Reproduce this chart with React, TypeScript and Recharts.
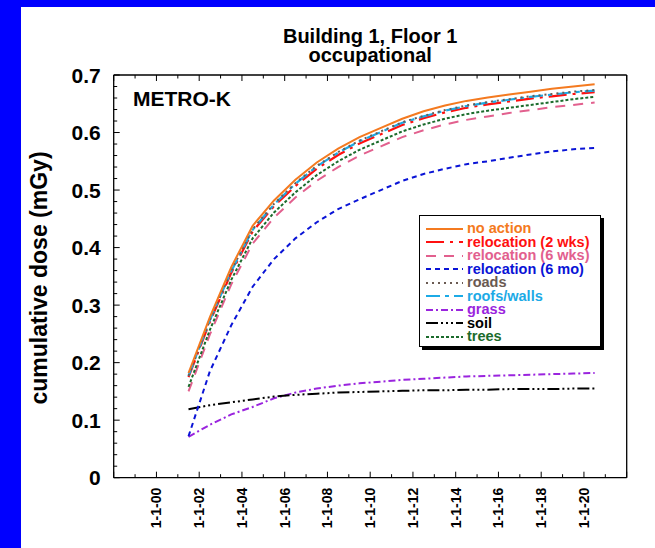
import React from 'react';
import { LineChart, Line, XAxis, YAxis, Legend } from 'recharts';

// Mid-year sample dates (decimal years)
const years = [
  2001.5, 2002.5, 2003.5, 2004.5, 2005.5, 2006.5, 2007.5, 2008.5, 2009.5, 2010.5,
  2011.5, 2012.5, 2013.5, 2014.5, 2015.5, 2016.5, 2017.5, 2018.5, 2019.5, 2020.5,
];

// Cumulative dose (mGy) per countermeasure
const noAction = [0.182, 0.279, 0.366, 0.438, 0.482, 0.518, 0.548, 0.572, 0.592, 0.608, 0.624, 0.637, 0.647, 0.655, 0.661, 0.666, 0.671, 0.676, 0.68, 0.684];
const relocation2wks = [0.175, 0.271, 0.356, 0.428, 0.472, 0.507, 0.537, 0.561, 0.581, 0.597, 0.613, 0.625, 0.635, 0.643, 0.649, 0.654, 0.659, 0.663, 0.667, 0.67];
const relocation6wks = [0.15, 0.249, 0.336, 0.407, 0.452, 0.487, 0.516, 0.54, 0.56, 0.576, 0.592, 0.604, 0.614, 0.622, 0.628, 0.634, 0.639, 0.644, 0.648, 0.652];
const relocation6mo = [0.072, 0.185, 0.265, 0.332, 0.38, 0.416, 0.444, 0.467, 0.484, 0.5, 0.516, 0.528, 0.537, 0.545, 0.55, 0.556, 0.562, 0.567, 0.571, 0.573];
const roads = [0.177, 0.274, 0.36, 0.432, 0.476, 0.512, 0.542, 0.566, 0.586, 0.602, 0.618, 0.629, 0.639, 0.647, 0.653, 0.658, 0.663, 0.667, 0.671, 0.674];
const roofsWalls = [0.177, 0.274, 0.359, 0.431, 0.475, 0.511, 0.541, 0.565, 0.585, 0.601, 0.617, 0.628, 0.638, 0.646, 0.652, 0.657, 0.662, 0.666, 0.67, 0.673];
const grass = [0.071, 0.092, 0.11, 0.123, 0.138, 0.148, 0.155, 0.16, 0.164, 0.167, 0.17, 0.172, 0.174, 0.176, 0.177, 0.178, 0.179, 0.18, 0.181, 0.182];
const soil = [0.119, 0.126, 0.131, 0.136, 0.141, 0.144, 0.146, 0.148, 0.149, 0.15, 0.151, 0.152, 0.152, 0.153, 0.153, 0.154, 0.154, 0.154, 0.155, 0.155];
const trees = [0.158, 0.257, 0.344, 0.416, 0.461, 0.496, 0.526, 0.55, 0.57, 0.586, 0.602, 0.614, 0.624, 0.632, 0.638, 0.643, 0.648, 0.653, 0.658, 0.662];

// Axis ticks
const yearTicks = [1998, 1999, 2000, 2001, 2002, 2003, 2004, 2005, 2006, 2007, 2008, 2009, 2010, 2011, 2012, 2013, 2014, 2015, 2016, 2017, 2018, 2019, 2020, 2021, 2022];
const labelledYears = [2000, 2002, 2004, 2006, 2008, 2010, 2012, 2014, 2016, 2018, 2020];
const yearLabels = ['1-1-00', '1-1-02', '1-1-04', '1-1-06', '1-1-08', '1-1-10', '1-1-12', '1-1-14', '1-1-16', '1-1-18', '1-1-20'];
const doseMajorTicks = [0, 0.1, 0.2, 0.3, 0.4, 0.5, 0.6, 0.7];
const doseLabels = ['0', '0.1', '0.2', '0.3', '0.4', '0.5', '0.6', '0.7'];
const doseTicks = Array.from({ length: 36 }, (_, k) => Math.round(k * 2) / 100);

type SeriesDef = { key: string; name: string; values: number[]; color: string; dash?: string; width: number };

const series: SeriesDef[] = [
  { key: 'noAction', name: 'no action', values: noAction, color: '#F47A20', width: 2 },
  { key: 'relocation2wks', name: 'relocation (2 wks)', values: relocation2wks, color: '#FF1010', dash: '18 6 3 6', width: 2.2 },
  { key: 'relocation6wks', name: 'relocation (6 wks)', values: relocation6wks, color: '#E2608E', dash: '10 8', width: 2 },
  { key: 'relocation6mo', name: 'relocation (6 mo)', values: relocation6mo, color: '#0A14D6', dash: '5 4', width: 2 },
  { key: 'roads', name: 'roads', values: roads, color: '#6A5A52', dash: '2 4', width: 2 },
  { key: 'roofsWalls', name: 'roofs/walls', values: roofsWalls, color: '#1CAAE6', dash: '14 5 4 5', width: 2.2 },
  { key: 'grass', name: 'grass', values: grass, color: '#9A24DE', dash: '7 3 2 3', width: 2 },
  { key: 'soil', name: 'soil', values: soil, color: '#000000', dash: '12 3 2 3 2 3 2 3', width: 2 },
  { key: 'trees', name: 'trees', values: trees, color: '#1B6B2C', dash: '3 2', width: 2 },
];

const drawOrder = ['grass', 'soil', 'relocation6mo', 'relocation6wks', 'trees', 'relocation2wks', 'roofsWalls', 'roads', 'noAction'];

const data = years.map((year, i) => {
  const row: Record<string, number> = { year };
  series.forEach((s) => {
    row[s.key] = s.values[i];
  });
  return row;
});

const FONT = '"Liberation Sans", Arial, Helvetica, sans-serif';

const BottomTick = (props: any) => {
  const { x, y, payload } = props;
  const v = payload.value as number;
  const major = v % 2 === 0;
  const idx = labelledYears.indexOf(v);
  return (
    <g>
      <line x1={x} y1={y} x2={x} y2={y - (major ? 6 : 3.5)} stroke="#000" strokeWidth={1} />
      {idx >= 0 && (
        <text
          x={x}
          y={y + 10}
          transform={`rotate(-90, ${x}, ${y + 10})`}
          textAnchor="end"
          dominantBaseline="central"
          fontFamily={FONT}
          fontWeight="bold"
          fontSize={14}
          fill="#000"
        >
          {yearLabels[idx]}
        </text>
      )}
    </g>
  );
};

const TopTick = (props: any) => {
  const { x, y, payload } = props;
  const major = (payload.value as number) % 2 === 0;
  return <line x1={x} y1={y} x2={x} y2={y + (major ? 6 : 3.5)} stroke="#000" strokeWidth={1} />;
};

const isMajorDose = (v: number) => doseMajorTicks.some((m) => Math.abs(m - v) < 1e-6);

const LeftTick = (props: any) => {
  const { x, y, payload } = props;
  const v = payload.value as number;
  const idx = doseMajorTicks.findIndex((m) => Math.abs(m - v) < 1e-6);
  return (
    <g>
      <line x1={x} y1={y} x2={x + (idx >= 0 ? 6 : 3.5)} y2={y} stroke="#000" strokeWidth={1} />
      {idx >= 0 && (
        <text
          x={x - 13}
          y={y}
          textAnchor="end"
          dominantBaseline="central"
          fontFamily={FONT}
          fontWeight="bold"
          fontSize={21}
          fill="#000"
        >
          {doseLabels[idx]}
        </text>
      )}
    </g>
  );
};

const RightTick = (props: any) => {
  const { x, y, payload } = props;
  const major = isMajorDose(payload.value as number);
  return <line x1={x} y1={y} x2={x - (major ? 6 : 3.5)} y2={y} stroke="#000" strokeWidth={1} />;
};

const legendOrder = ['noAction', 'relocation2wks', 'relocation6wks', 'relocation6mo', 'roads', 'roofsWalls', 'grass', 'soil', 'trees'];

const LegendBox = () => (
  <div
    style={{
      width: 182,
      height: 132,
      background: '#fff',
      border: '1px solid #000',
      boxShadow: '3px 3px 0 #000',
      boxSizing: 'border-box',
      padding: '6px 0 0 6px',
    }}
  >
    {legendOrder.map((key) => {
      const s = series.find((d) => d.key === key)!;
      return (
        <div key={key} style={{ display: 'flex', alignItems: 'center', height: 13.5 }}>
          <svg width={37} height={6} style={{ flex: 'none' }}>
            <line x1={0} y1={3} x2={37} y2={3} stroke={s.color} strokeWidth={2} strokeDasharray={s.dash} />
          </svg>
          <span
            style={{
              color: s.color,
              fontFamily: FONT,
              fontWeight: 'bold',
              fontSize: 14.5,
              lineHeight: '13.5px',
              marginLeft: 4,
              whiteSpace: 'nowrap',
            }}
          >
            {s.name}
          </span>
        </div>
      );
    })}
  </div>
);

const PLOT_LEFT = 113.7;
const PLOT_TOP = 75;
const PLOT_RIGHT = 626.7;
const PLOT_BOTTOM = 477.7;
const AXIS_BAND = 1;
const W = 655;
const H = 548;
const TITLE_X = 39;
const TITLE_Y = 278;

export default function App() {
  return (
    <div style={{ position: 'absolute', left: 0, top: 0, width: W, height: H, background: '#fff', overflow: 'hidden' }}>
      <div style={{ position: 'absolute', left: 0, top: 0, width: W, height: 7, background: '#0000FF' }} />
      <div style={{ position: 'absolute', left: 0, top: 0, width: 21, height: H, background: '#0000FF' }} />
      <div
        style={{
          position: 'absolute',
          left: PLOT_LEFT,
          width: PLOT_RIGHT - PLOT_LEFT,
          top: 27,
          textAlign: 'center',
          fontFamily: FONT,
          fontWeight: 'bold',
          fontSize: 20,
          lineHeight: '19px',
          color: '#000',
        }}
      >
        Building 1, Floor 1
        <br />
        occupational
      </div>
      <div
        style={{
          position: 'absolute',
          left: 133,
          top: 88,
          fontFamily: FONT,
          fontWeight: 'bold',
          fontSize: 21,
          lineHeight: '22px',
          color: '#000',
        }}
      >
        METRO-K
      </div>
      <LineChart
        width={W}
        height={H}
        data={data}
        margin={{
          top: PLOT_TOP - AXIS_BAND,
          right: W - PLOT_RIGHT - AXIS_BAND,
          bottom: H - PLOT_BOTTOM - AXIS_BAND,
          left: PLOT_LEFT - AXIS_BAND,
        }}
        style={{ position: 'absolute', left: 0, top: 0 }}
      >
        <XAxis
          xAxisId="bottom"
          dataKey="year"
          type="number"
          domain={[1998, 2022]}
          ticks={yearTicks}
          interval={0}
          height={AXIS_BAND}
          tickSize={0}
          tickMargin={0}
          tickLine={false}
          axisLine={{ stroke: '#000', strokeWidth: 1.3 }}
          tick={<BottomTick />}
        />
        <XAxis
          xAxisId="top"
          orientation="top"
          dataKey="year"
          type="number"
          domain={[1998, 2022]}
          ticks={yearTicks}
          interval={0}
          height={AXIS_BAND}
          tickSize={0}
          tickMargin={0}
          tickLine={false}
          axisLine={{ stroke: '#000', strokeWidth: 1.3 }}
          tick={<TopTick />}
        />
        <YAxis
          yAxisId="left"
          type="number"
          domain={[0, 0.7]}
          ticks={doseTicks}
          interval={0}
          width={AXIS_BAND}
          tickSize={0}
          tickMargin={0}
          tickLine={false}
          axisLine={{ stroke: '#000', strokeWidth: 1.3 }}
          tick={<LeftTick />}
          label={{
            content: () => (
              <text
                x={TITLE_X}
                y={TITLE_Y}
                transform={`rotate(-90, ${TITLE_X}, ${TITLE_Y})`}
                textAnchor="middle"
                dominantBaseline="central"
                fontFamily={FONT}
                fontWeight="bold"
                fontSize={23}
                fill="#000"
              >
                cumulative dose (mGy)
              </text>
            ),
          }}
        />
        <YAxis
          yAxisId="right"
          orientation="right"
          type="number"
          domain={[0, 0.7]}
          ticks={doseTicks}
          interval={0}
          width={AXIS_BAND}
          tickSize={0}
          tickMargin={0}
          tickLine={false}
          axisLine={{ stroke: '#000', strokeWidth: 1.3 }}
          tick={<RightTick />}
        />
        <Legend
          layout="vertical"
          align="center"
          verticalAlign="middle"
          content={<LegendBox />}
          wrapperStyle={{ position: 'absolute', left: 419, top: 215, width: 185, height: 135 }}
        />
        {drawOrder.map((key) => {
          const s = series.find((d) => d.key === key)!;
          return (
            <Line
              key={key}
              xAxisId="bottom"
              yAxisId="left"
              type="linear"
              dataKey={key}
              name={s.name}
              stroke={s.color}
              strokeWidth={s.width}
              strokeDasharray={s.dash}
              dot={false}
              activeDot={false}
              isAnimationActive={false}
            />
          );
        })}
      </LineChart>
    </div>
  );
}
